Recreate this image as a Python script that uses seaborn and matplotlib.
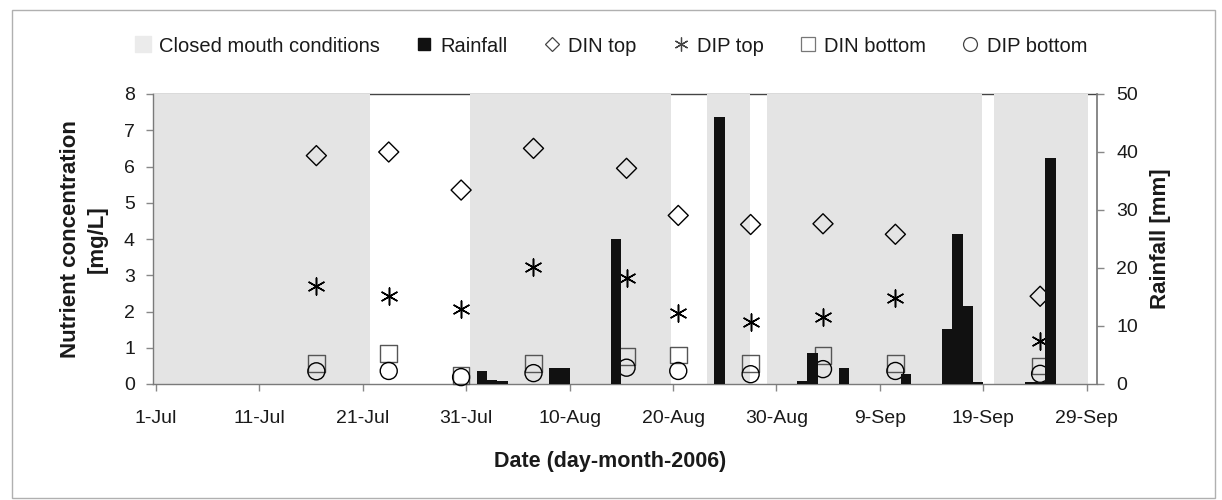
import numpy as np
import pandas as pd
import matplotlib
matplotlib.use("Agg")
import matplotlib.pyplot as plt
import seaborn as sns
from matplotlib.lines import Line2D
from matplotlib.patches import Rectangle

# ---------------- data ----------------
sample_dates = ["16-Jul", "23-Jul", "30-Jul", "6-Aug", "15-Aug", "20-Aug",
                "27-Aug", "3-Sep", "10-Sep", "24-Sep"]
din_top = [6.30, 6.40, 5.35, 6.50, 5.95, 4.65, 4.40, 4.42, 4.13, 2.42]
dip_top = [2.70, 2.42, 2.06, 3.22, 2.92, 1.97, 1.72, 1.86, 2.38, 1.20]
din_bottom = [0.57, 0.85, 0.24, 0.57, 0.76, 0.80, 0.57, 0.78, 0.57, 0.50]
dip_bottom = [0.35, 0.36, 0.19, 0.30, 0.45, 0.36, 0.27, 0.41, 0.36, 0.28]

rain_dates = ["1-Aug", "2-Aug", "3-Aug", "8-Aug", "9-Aug", "14-Aug", "24-Aug",
              "1-Sep", "2-Sep", "5-Sep", "11-Sep", "15-Sep", "16-Sep", "17-Sep",
              "18-Sep", "23-Sep", "24-Sep", "25-Sep"]
rain_mm = [2.3, 0.7, 0.5, 2.8, 2.8, 25.0, 46.0,
           0.6, 5.4, 2.8, 1.8, 9.4, 25.9, 13.5,
           0.3, 0.4, 0.4, 38.9]

# closed mouth periods, in days after 1-Jul-2006
closed_start = [-0.3, 30.4, 53.3, 59.1, 81.0]
closed_end = [20.7, 49.8, 57.4, 79.9, 90.1]

tick_days = [0, 10, 20, 30, 40, 50, 60, 70, 80, 90]
tick_labels = ["1-Jul", "11-Jul", "21-Jul", "31-Jul", "10-Aug", "20-Aug",
               "30-Aug", "9-Sep", "19-Sep", "29-Sep"]
left_ticks = [0, 1, 2, 3, 4, 5, 6, 7, 8]
right_ticks = [0, 10, 20, 30, 40, 50]

# ---------------- helpers ----------------
origin = pd.Timestamp("2006-07-01")


def to_day(labels):
    d = pd.to_datetime([s + "-2006" for s in labels], format="%d-%b-%Y")
    return np.array((d - origin).days, dtype=float)


CENTER = 0.5  # each date occupies one day slot
sx = to_day(sample_dates) + CENTER
rx = to_day(rain_dates) + CENTER

sns.set_theme(style="white")
plt.rcParams['font.family'] = ['Liberation Sans', 'DejaVu Sans']

W, H = 1222, 500
fig = plt.figure(figsize=(W / 100, H / 100), dpi=100, facecolor="white")
L, R, T, B = 153, 1097, 94, 384
ax = fig.add_axes([L / W, 1 - B / H, (R - L) / W, (B - T) / H])
ax2 = ax.twinx()

shade = "#e4e4e4"
for s, e in zip(closed_start, closed_end):
    ax.axvspan(s, e, color=shade, lw=0, zorder=0.5)

mk = dict(legend=False, ax=ax, zorder=3)
sns.scatterplot(x=sx, y=din_top, marker="D", s=104, color="black",
                facecolors="none", edgecolor="black", linewidth=1.0, **mk)
sns.scatterplot(x=sx, y=dip_top, marker=(6, 2, 0), s=150, color="black",
                edgecolor="black", linewidth=1.1, **mk)
sns.scatterplot(x=sx, y=din_bottom, marker="s", s=144, color="#555555",
                facecolors="none", edgecolor="#555555", linewidth=1.0, **mk)
sns.scatterplot(x=sx, y=dip_bottom, marker="o", s=150, color="black",
                facecolors="none", edgecolor="black", linewidth=1.0, **mk)
for c in ax.collections:
    c.set_clip_on(False)

sns.barplot(x=rx, y=rain_mm, ax=ax2, native_scale=True, width=1.0,
            color="#111111", saturation=1, errorbar=None, linewidth=0)

ax.set_xlim(-0.3, 91.0)
ax.set_ylim(0, 8)
ax2.set_ylim(0, 50)

ax.set_xticks(tick_days)
ax.set_xticklabels(tick_labels)
ax.set_yticks(left_ticks)
ax2.set_yticks(right_ticks)

tc = "#1a1a1a"
ax.tick_params(axis="x", bottom=True, direction="out", length=5, width=1,
               color="#888888", pad=14, labelsize=14, labelcolor=tc)
ax.tick_params(axis="y", left=True, direction="out", length=5, width=1,
               color="#888888", pad=8, labelsize=14, labelcolor=tc)
ax2.tick_params(axis="y", right=True, direction="out", length=5, width=1,
                color="#888888", pad=9, labelsize=14, labelcolor=tc)

for side in ["left", "bottom", "top"]:
    ax.spines[side].set_visible(True)
    ax.spines[side].set_color("#7a7a7a")
    ax.spines[side].set_linewidth(1.0)
ax.spines["top"].set_zorder(0.1)
ax.spines["top"].set_color("#444444")
ax.spines["right"].set_visible(False)
for side in ["left", "bottom", "top"]:
    ax2.spines[side].set_visible(False)
ax2.spines["right"].set_visible(True)
ax2.spines["right"].set_color("#7a7a7a")

ax.set_xlabel("Date (day-month-2006)", fontsize=15.5, fontweight="bold", color=tc)
ax.xaxis.set_label_coords((610 - L) / (R - L), -(451 - B) / (B - T))
ax.set_ylabel("Nutrient concentration\n[mg/L]", fontsize=16,
              fontweight="bold", color=tc, linespacing=1.4)
ax.yaxis.set_label_coords(-(L - 108) / (R - L), 0.5)
ax2.set_ylabel("Rainfall [mm]", fontsize=16, fontweight="bold", color=tc)
ax2.yaxis.set_label_coords(1 + (1150 - R) / (R - L), 0.5)
ax2.set_xlabel("")

handles = [
    Line2D([], [], ls="none", marker="s", ms=12, color="#ebebeb", mec="#ebebeb"),
    Line2D([], [], ls="none", marker="s", ms=9, color="#111111"),
    Line2D([], [], ls="none", marker="D", ms=7, mfc="none", mec="#444444", mew=0.9),
    Line2D([], [], ls="none", marker=(6, 2, 0), ms=10, color="#444444", mew=0.9),
    Line2D([], [], ls="none", marker="s", ms=10, mfc="none", mec="#777777", mew=0.9),
    Line2D([], [], ls="none", marker="o", ms=10, mfc="none", mec="#444444", mew=0.9),
]
labels = ["Closed mouth conditions", "Rainfall", "DIN top", "DIP top",
          "DIN bottom", "DIP bottom"]
fig.legend(handles, labels, loc="center", bbox_to_anchor=(610 / W, 1 - 46 / H),
           ncol=6, frameon=False, fontsize=14.5, handletextpad=0.3,
           columnspacing=1.7, handlelength=1.0, labelcolor=tc)

fig.add_artist(Rectangle((12 / W, 2 / H), (1215 - 12) / W, (488) / H,
                         transform=fig.transFigure, fill=False,
                         edgecolor="#b0b0b0", lw=1.0))

fig.savefig("out.png", dpi=100, facecolor="white")
